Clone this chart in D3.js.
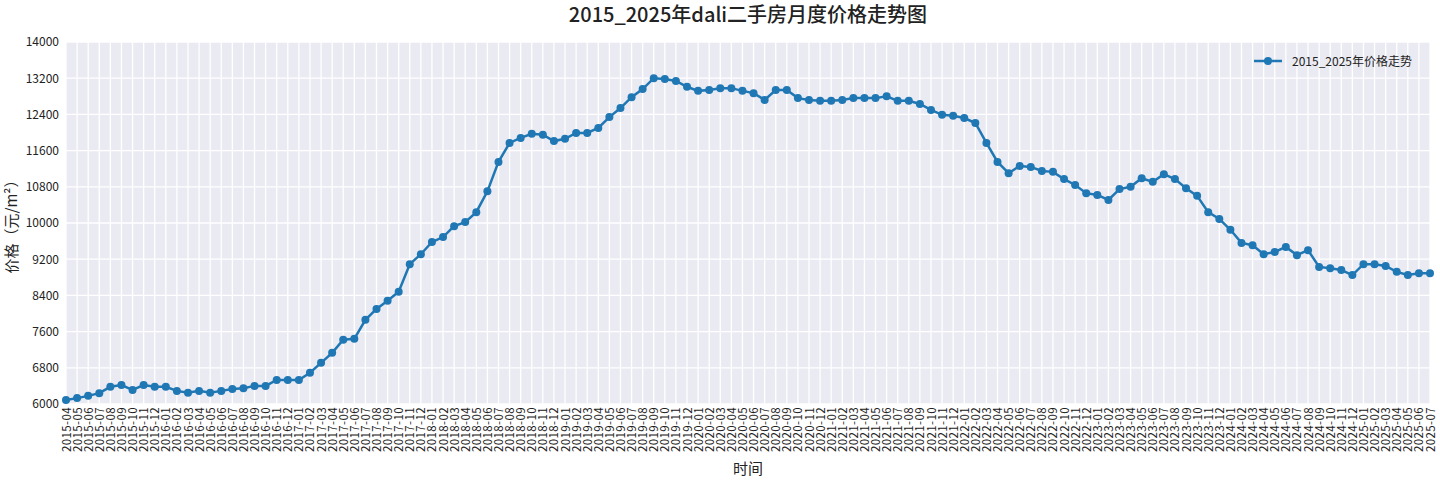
<!DOCTYPE html>
<html>
<head>
<meta charset="utf-8">
<script src="https://cdn.jsdelivr.net/npm/d3@7"></script>
<style>
  body { margin: 0; background: #fff; }
  text { font-family: "Noto Sans CJK SC", "DejaVu Sans", sans-serif; }
</style>
</head>
<body>
<svg width="1440" height="480"></svg>
<script>
const months = [];
for (let y = 2015; y <= 2025; ++y)
  for (let m = 1; m <= 12; ++m) {
    if (y === 2015 && m < 4) continue;
    if (y === 2025 && m > 7) continue;
    months.push(y + '-' + String(m).padStart(2, '0'));
  }

const prices = [
  6090, 6130, 6180, 6240, 6380, 6420, 6310, 6420, 6380,
  6380, 6290, 6250, 6290, 6250, 6290, 6330, 6350, 6400, 6400, 6530, 6530,
  6530, 6690, 6910, 7130, 7420, 7440, 7860, 8100, 8280, 8480, 9090, 9310,
  9580, 9690, 9930, 10020, 10240, 10700, 11350, 11770, 11880, 11970, 11950, 11810,
  11860, 11990, 11990, 12100, 12340, 12540, 12780, 12960, 13200, 13180, 13140, 13010,
  12920, 12940, 12980, 12980, 12920, 12870, 12720, 12940, 12940, 12760, 12720, 12700,
  12700, 12720, 12760, 12760, 12760, 12800, 12700, 12700, 12630, 12500, 12390, 12370,
  12320, 12210, 11770, 11350, 11100, 11260, 11240, 11150, 11130, 10970, 10840, 10660,
  10620, 10510, 10750, 10800, 10990, 10910, 11080, 10970, 10770, 10600, 10240, 10090,
  9850, 9560, 9510, 9310, 9360, 9470, 9290, 9400, 9030, 9000, 8960, 8850,
  9090, 9090, 9050, 8920, 8850, 8890, 8890
];

const yTicks = [6000, 6800, 7600, 8400, 9200, 10000, 10800, 11600, 12400, 13200, 14000];

const m = {left: 66, right: 10, top: 42, bottom: 76};
const W = 1440, H = 480;
const svg = d3.select('svg');

const x = d3.scalePoint().domain(months).range([m.left, W - m.right]);
const y = d3.scaleLinear().domain([6000, 14000]).range([H - m.bottom, m.top]);

svg.append('rect')
  .attr('x', m.left).attr('y', m.top)
  .attr('width', W - m.right - m.left).attr('height', H - m.bottom - m.top)
  .attr('fill', '#eaeaf2');

// grid
svg.append('g').selectAll('line').data(months).enter().append('line')
  .attr('x1', d => x(d)).attr('x2', d => x(d))
  .attr('y1', m.top).attr('y2', H - m.bottom)
  .attr('stroke', '#fff').attr('stroke-width', 1.3);
svg.append('g').selectAll('line').data(yTicks).enter().append('line')
  .attr('x1', m.left).attr('x2', W - m.right)
  .attr('y1', d => y(d)).attr('y2', d => y(d))
  .attr('stroke', '#fff').attr('stroke-width', 1.3);

// axes
const xAxis = svg.append('g')
  .attr('transform', `translate(0,${H - m.bottom})`)
  .call(d3.axisBottom(x).tickSize(0).tickPadding(4));
xAxis.select('.domain').remove();
xAxis.selectAll('text')
  .attr('transform', 'rotate(-90)')
  .attr('text-anchor', 'end')
  .attr('dx', '-3').attr('dy', '0.35em').attr('y', 0)
  .attr('font-size', 11.5).attr('letter-spacing', 0.4).attr('fill', '#222');

const yAxis = svg.append('g')
  .attr('transform', `translate(${m.left},0)`)
  .call(d3.axisLeft(y).tickValues(yTicks).tickSize(0).tickPadding(7).tickFormat(d3.format('d')));
yAxis.select('.domain').remove();
yAxis.selectAll('text').attr('font-size', 12).attr('fill', '#222');

// line
svg.append('path')
  .datum(prices)
  .attr('fill', 'none')
  .attr('stroke', '#1f77b4')
  .attr('stroke-width', 2.5)
  .attr('d', d3.line().x((d, i) => x(months[i])).y(d => y(d)));

svg.append('g').selectAll('circle').data(prices).enter().append('circle')
  .attr('cx', (d, i) => x(months[i])).attr('cy', d => y(d))
  .attr('r', 4).attr('fill', '#1f77b4');

// titles
svg.append('text').attr('x', (m.left + W - m.right) / 2).attr('y', 22)
  .attr('text-anchor', 'middle').attr('font-size', 20).attr('font-weight', 500).attr('fill', '#222')
  .text('2015_2025年dali二手房月度价格走势图');
svg.append('text').attr('x', (m.left + W - m.right) / 2).attr('y', 474)
  .attr('text-anchor', 'middle').attr('font-size', 15).attr('fill', '#222')
  .text('时间');
svg.append('text')
  .attr('transform', `translate(17,${(m.top + H - m.bottom) / 2}) rotate(-90)`)
  .attr('text-anchor', 'middle').attr('font-size', 15).attr('fill', '#222')
  .text('价格（元/m²）');

// legend
const lg = svg.append('g').attr('transform', 'translate(1254,61)');
lg.append('line').attr('x1', 0).attr('x2', 28).attr('stroke', '#1f77b4').attr('stroke-width', 2.5);
lg.append('circle').attr('cx', 14).attr('r', 4).attr('fill', '#1f77b4');
lg.append('text').attr('x', 38).attr('y', 4.5).attr('font-size', 12).attr('fill', '#222')
  .text('2015_2025年价格走势');
</script>
</body>
</html>
